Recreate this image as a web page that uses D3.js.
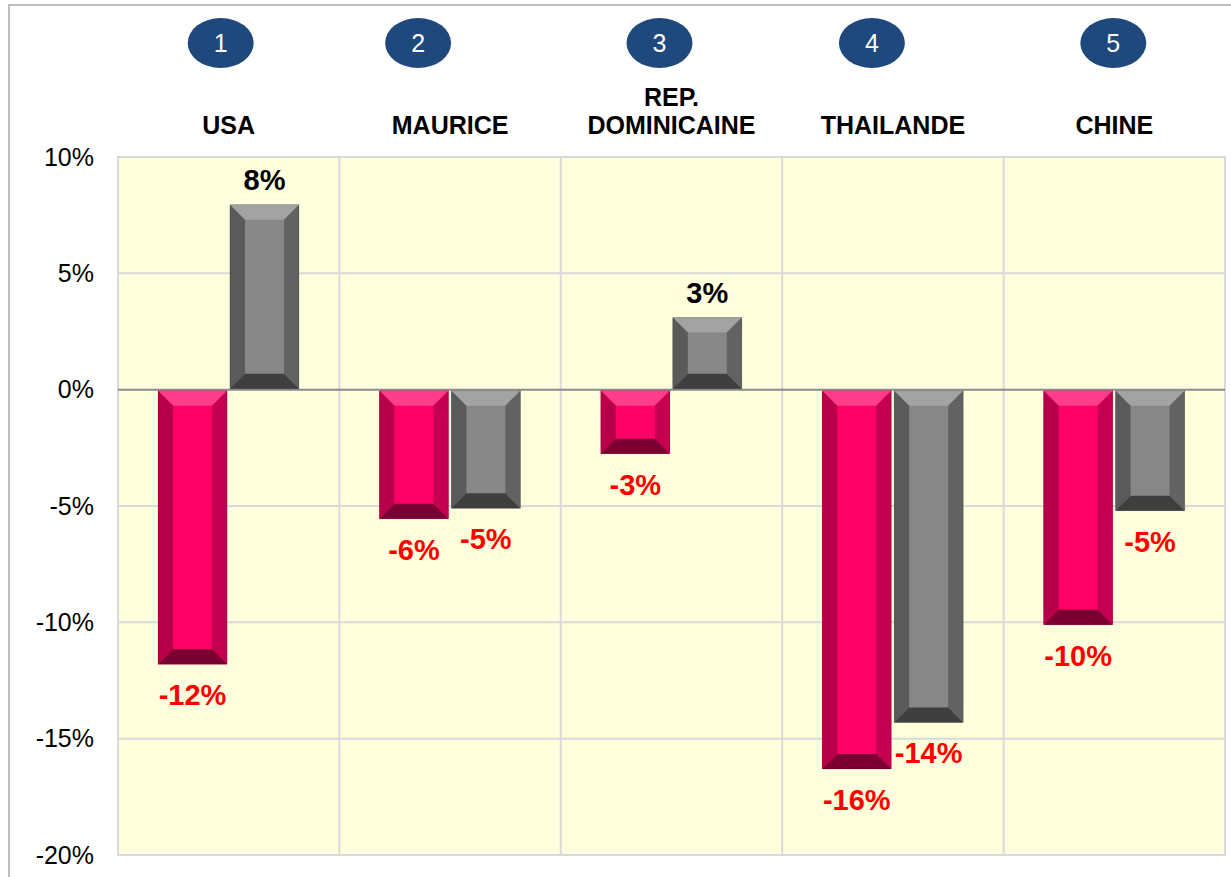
<!DOCTYPE html>
<html>
<head>
<meta charset="utf-8">
<script src="https://cdn.jsdelivr.net/npm/d3@7"></script>
<style>
  body { margin: 0; background: #fff; }
  svg { display: block; font-family: "Liberation Sans", Arial, sans-serif; }
</style>
</head>
<body>
<svg id="chart" width="1231" height="877"></svg>
<script>
// data
var categories = ["USA", "MAURICE", "REP. DOMINICAINE", "THAILANDE", "CHINE"];
var ranks = ["1", "2", "3", "4", "5"];
var seriesNames = ["serieA", "serieB"];
var serieA = [-11.8, -5.55, -2.75, -16.3, -10.1];
var serieB = [7.95, -5.1, 3.1, -14.3, -5.2];
var yTicks = [10, 5, 0, -5, -10, -15, -20];

// layout bits (not data)
var badgeShift = [-8, -32, -12, -21, -1];

var svg = d3.select("#chart");
var W = 1231, H = 877;
var m = {left: 118, right: 6, top: 157, bottom: 22};

// outer frame
svg.append("rect")
    .attr("x", 9).attr("y", 5)
    .attr("width", W).attr("height", H)
    .attr("fill", "none")
    .attr("stroke", "#bfbfbf").attr("stroke-width", 2);

var x0 = d3.scaleBand().domain(categories)
    .range([m.left, W - m.right]).padding(0);
var x1 = d3.scaleBand().domain(seriesNames)
    .range([40, 181]).paddingInner(0.04);
var y = d3.scaleLinear().domain([-20, 10])
    .range([H - m.bottom, m.top]);

// plot bg
svg.append("rect")
    .attr("x", m.left).attr("y", m.top)
    .attr("width", W - m.right - m.left)
    .attr("height", y(-20) - y(10))
    .attr("fill", "#ffffdd")
    .attr("stroke", "#d9d9d9").attr("stroke-width", 2);

// horizontal grid
svg.append("g").selectAll("line")
    .data(yTicks.filter(function(d) { return d != 0; }))
    .enter().append("line")
    .attr("x1", m.left).attr("x2", W - m.right)
    .attr("y1", function(d) { return y(d); })
    .attr("y2", function(d) { return y(d); })
    .attr("stroke", "#d9d9d9").attr("stroke-width", 2);

// vertical category separators
svg.append("g").selectAll("line")
    .data(categories.slice(1))
    .enter().append("line")
    .attr("x1", function(d) { return x0(d); })
    .attr("x2", function(d) { return x0(d); })
    .attr("y1", m.top).attr("y2", y(-20))
    .attr("stroke", "#d9d9d9").attr("stroke-width", 2);

// y axis labels
var yAxis = d3.axisLeft(y).tickValues(yTicks)
    .tickFormat(function(d) { return d + "%"; })
    .tickSize(0).tickPadding(24);
var ya = svg.append("g")
    .attr("transform", "translate(" + m.left + ",0)")
    .call(yAxis);
ya.select(".domain").remove();
ya.selectAll("text")
    .attr("font-size", 25)
    .attr("font-family", "Liberation Sans, Arial, sans-serif")
    .attr("fill", "#000");

// zero line
svg.append("line")
    .attr("x1", m.left).attr("x2", W - m.right)
    .attr("y1", y(0)).attr("y2", y(0))
    .attr("stroke", "#8c8c8c").attr("stroke-width", 2);

// badges + category names
var head = svg.append("g");
categories.forEach(function(c, i) {
    var cx = x0(c) + x0.bandwidth() / 2;
    var bx = cx + badgeShift[i];
    head.append("ellipse")
        .attr("cx", bx).attr("cy", 43)
        .attr("rx", 33).attr("ry", 25)
        .attr("fill", "#1f497d");
    head.append("text")
        .attr("x", bx).attr("y", 52)
        .attr("text-anchor", "middle")
        .attr("font-size", 25)
        .attr("fill", "#fff")
        .text(ranks[i]);
    var parts = c == "REP. DOMINICAINE" ? ["REP.", "DOMINICAINE"] : [c];
    parts.forEach(function(p, k) {
        head.append("text")
            .attr("x", cx)
            .attr("y", 134 - (parts.length - 1 - k) * 28)
            .attr("text-anchor", "middle")
            .attr("font-size", 25)
            .attr("font-weight", "bold")
            .attr("fill", "#000")
            .text(p);
    });
});

// bevel bar drawing
var palettes = {
    serieA: {mid: "#ff0066", top: "#ff3d88", left: "#b8004a", right: "#c40050", bot: "#7a0032"},
    serieB: {mid: "#878787", top: "#a3a3a3", left: "#5a5a5a", right: "#626262", bot: "#3f3f3f"}
};

function bevelBar(g, bx, by, bw, bh, pal) {
    var b = Math.min(15, bw / 3, bh / 3);
    var x2 = bx + bw, y2 = by + bh;
    g.append("rect").attr("x", bx).attr("y", by).attr("width", bw).attr("height", bh)
        .attr("fill", pal.mid);
    var polys = [
        {c: pal.top, p: [[bx, by], [x2, by], [x2 - b, by + b], [bx + b, by + b]]},
        {c: pal.left, p: [[bx, by], [bx + b, by + b], [bx + b, y2 - b], [bx, y2]]},
        {c: pal.right, p: [[x2, by], [x2, y2], [x2 - b, y2 - b], [x2 - b, by + b]]},
        {c: pal.bot, p: [[bx, y2], [bx + b, y2 - b], [x2 - b, y2 - b], [x2, y2]]}
    ];
    polys.forEach(function(q) {
        g.append("polygon")
            .attr("points", q.p.map(function(pt) { return pt.join(","); }).join(" "))
            .attr("fill", q.c);
    });
    g.append("rect").attr("x", bx).attr("y", by).attr("width", bw).attr("height", bh)
        .attr("fill", "none").attr("stroke", "rgba(0,0,0,0.15)").attr("stroke-width", 1);
}

var seriesData = {serieA: serieA, serieB: serieB};
var bars = svg.append("g");
var labels = svg.append("g");

categories.forEach(function(c, i) {
    seriesNames.forEach(function(s) {
        var v = seriesData[s][i];
        var bx = x0(c) + x1(s);
        var bw = x1.bandwidth();
        var top = v >= 0 ? y(v) : y(0) + 1;
        var bot = v >= 0 ? y(0) - 1 : y(v);
        bevelBar(bars, bx, top, bw, bot - top, palettes[s]);

        var r = Math.round(Math.abs(v)) * (v < 0 ? -1 : 1);
        labels.append("text")
            .attr("x", bx + bw / 2)
            .attr("y", v >= 0 ? y(v) - 15 : y(v) + 41)
            .attr("text-anchor", "middle")
            .attr("font-size", 29)
            .attr("font-weight", "bold")
            .attr("fill", v >= 0 ? "#000" : "#ff0000")
            .text(r + "%");
    });
});
</script>
</body>
</html>
